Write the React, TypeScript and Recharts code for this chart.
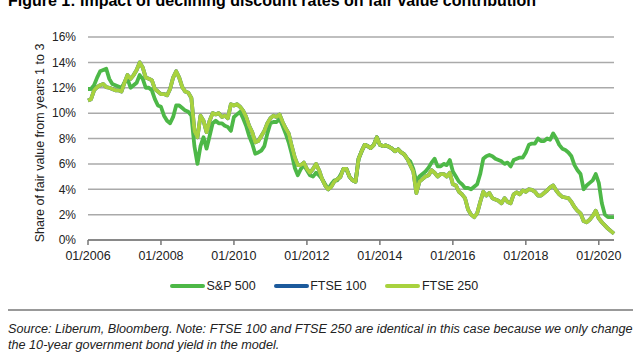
import { LineChart, Line, XAxis, YAxis, CartesianGrid } from 'recharts';

// Monthly readings, 01/2006 .. 06/2020 (share of fair value, %)
const sp500 = [
  11.9, 11.9, 12.2, 12.8, 13.3, 13.4, 13.5, 12.7, 12.3, 12.2,
  12.1, 12.0, 12.4, 12.7, 12.0, 12.2, 12.4, 13.0, 12.7, 12.0,
  12.0, 11.8, 11.1, 10.6, 10.5, 9.8, 9.4, 9.2, 9.7, 10.6,
  10.6, 10.4, 10.2, 10.1, 9.8, 7.4, 6.0, 7.4, 8.1, 7.2,
  8.2, 9.2, 9.4, 9.2, 9.2, 9.0, 8.9, 8.6, 9.7, 9.9,
  10.1, 9.6, 9.0, 8.2, 7.6, 6.8, 6.9, 7.05, 7.4, 8.4,
  9.2, 9.3, 9.3, 9.55, 9.0, 8.4, 7.7, 6.8, 5.7, 5.1,
  5.6, 5.9, 5.5, 5.1, 5.0, 5.3, 5.1, 4.8, 4.4, 4.0,
  4.4, 4.7, 4.7, 5.1, 5.6, 5.6, 5.0, 4.7, 4.6, 6.4,
  7.0, 7.5, 7.4, 7.25, 7.5, 8.1, 7.5, 7.4, 7.45, 7.35,
  7.2, 7.0, 7.15, 6.9, 6.75, 6.4, 6.2, 5.6, 4.6, 5.0,
  5.2, 5.4, 5.7, 6.1, 6.4, 5.8, 5.8, 6.0, 5.9, 6.3,
  5.4, 5.0, 4.6, 4.4, 4.1, 4.1, 4.0, 4.2, 4.4, 5.2,
  6.4, 6.6, 6.7, 6.6, 6.4, 6.3, 6.2, 6.0, 6.1, 5.8,
  6.3, 6.4, 6.5, 6.5, 6.9, 7.5, 7.6, 7.6, 8.0, 7.8,
  7.8, 8.0, 7.9, 8.4, 8.0, 7.5, 7.2, 7.1, 6.9, 6.6,
  5.9, 5.5, 5.2, 4.0, 4.3, 4.5, 4.7, 5.2, 4.5, 2.9,
  2.0, 1.8, 1.8, 1.8,
];

const ftse250 = [
  11.0, 11.1, 11.8, 12.05, 12.2, 12.3, 12.05, 12.0, 11.9, 11.8,
  11.8, 11.7, 12.4, 13.0, 12.7, 13.0, 13.4, 14.0, 13.6, 12.8,
  12.7, 12.6, 11.9, 11.7, 11.5, 11.5, 11.4, 11.9, 12.8, 13.3,
  12.8, 12.05, 11.7, 11.6, 11.2, 8.6, 8.1, 9.8, 9.4, 8.5,
  9.4, 10.0, 9.9, 10.0, 9.7, 9.8, 9.6, 10.7, 10.6, 10.7,
  10.5, 10.2, 9.7, 9.0, 8.5, 7.7, 7.8, 8.2, 8.6, 9.2,
  9.6, 9.8, 9.7, 9.9, 9.3, 8.8, 8.4, 7.4, 6.5, 5.9,
  5.9, 6.1, 5.6, 5.3, 5.6, 6.0, 5.5, 4.8, 4.3, 4.0,
  4.2, 4.6, 4.8, 4.95, 5.6, 5.6, 5.0, 4.7, 4.6, 6.4,
  7.0, 7.5, 7.4, 7.25, 7.5, 8.1, 7.5, 7.4, 7.45, 7.35,
  7.2, 7.0, 7.15, 6.9, 6.75, 6.4, 5.9, 5.4, 3.7, 4.6,
  4.8, 5.0, 5.1, 5.5, 5.3, 5.0, 5.2, 5.2, 5.0, 5.3,
  4.4, 4.3, 3.8, 3.6, 3.3, 2.4, 2.0, 1.8, 2.1, 3.0,
  3.8, 3.5, 3.7, 3.3, 3.2, 3.1, 2.9, 3.3, 3.0, 2.9,
  3.6, 3.75, 3.6, 3.9, 3.8, 4.0, 3.95, 3.8, 3.5, 3.5,
  3.7, 3.9, 4.15, 4.3, 3.9, 3.6, 3.4, 3.35, 3.3, 3.0,
  2.6, 2.3, 2.1, 1.5, 1.4, 1.6, 1.9, 2.3, 1.7, 1.4,
  1.15, 0.9, 0.7, 0.5,
];

// identical to FTSE 250 in this case (only the 10y yield changes)
const ftse100 = [...ftse250];

const tickLabels = ['01/2006', '01/2008', '01/2010', '01/2012', '01/2014', '01/2016', '01/2018', '01/2020'];
const yTicks = [0, 2, 4, 6, 8, 10, 12, 14, 16];

const series = [
  { key: 'sp500', name: 'S&P 500', color: '#4db847' },
  { key: 'ftse100', name: 'FTSE 100', color: '#1c5a9c' },
  { key: 'ftse250', name: 'FTSE 250', color: '#a8d23e' },
];

const data = sp500.map((v, i) => ({ m: i, sp500: v, ftse100: ftse100[i], ftse250: ftse250[i] }));
const xTicks = tickLabels.map((_, k) => k * 24);

const font = '"Liberation Sans", Arial, sans-serif';

export default function App() {
  return (
    <div style={{ position: 'absolute', left: 0, top: 0, width: 640, height: 360, overflow: 'hidden', background: '#fff', fontFamily: font }}>
      {/* title sits partly above the frame, as in the source crop */}
      <div style={{ position: 'absolute', left: 8, top: -8, fontSize: 16, lineHeight: '18px', fontWeight: 'bold', color: '#000', whiteSpace: 'nowrap' }}>
        Figure 1: Impact of declining discount rates on fair value contribution
      </div>

      <LineChart width={640} height={360} data={data} margin={{ top: 37, right: 26, bottom: 90, left: 0 }}>
        <CartesianGrid vertical={false} stroke="#aaaaaa" strokeWidth={1.5} />
        <XAxis
          dataKey="m"
          type="number"
          domain={[0, 173]}
          ticks={xTicks}
          tickFormatter={(v: number) => tickLabels[v / 24]}
          height={30}
          tick={{ fontSize: 12.5, fill: '#222', fontFamily: font }}
          axisLine={{ stroke: '#777', strokeWidth: 1.5 }}
          tickLine={{ stroke: '#777', strokeWidth: 1.5 }}
          tickSize={5}
          tickMargin={6.5}
          interval={0}
        />
        <YAxis
          type="number"
          domain={[0, 16]}
          ticks={yTicks}
          tickFormatter={(v: number) => `${v}%`}
          width={88}
          tick={{ fontSize: 12, fill: '#222', fontFamily: font }}
          axisLine={false}
          tickLine={false}
          tickMargin={6}
          interval={0}
        />
        {series.map((s) => (
          <Line
            key={s.key}
            type="linear"
            dataKey={s.key}
            name={s.name}
            stroke={s.color}
            strokeWidth={3.8}
            strokeLinejoin="round"
            dot={false}
            isAnimationActive={false}
          />
        ))}
      </LineChart>

      <div style={{ position: 'absolute', left: 40, top: 143, transform: 'translate(-50%, -50%) rotate(-90deg)', fontSize: 12.5, color: '#222', whiteSpace: 'nowrap' }}>
        Share of fair value from years 1 to 3
      </div>

      <div style={{ position: 'absolute', left: 170, top: 278, height: 16, display: 'flex', alignItems: 'center', fontSize: 12.5, color: '#222' }}>
        {series.map((s, k) => (
          <div key={s.key} style={{ display: 'flex', alignItems: 'center', marginRight: k === 0 ? 18 : 19 }}>
            <div style={{ width: 35, height: 4, background: s.color, borderRadius: 2, marginRight: 1.5 }} />
            <span>{s.name}</span>
          </div>
        ))}
      </div>

      <div style={{ position: 'absolute', left: 8, top: 309, width: 625, height: 2, background: '#999' }} />

      <div style={{ position: 'absolute', left: 8, top: 322, width: 632, fontSize: 12.65, lineHeight: '15.5px', fontStyle: 'italic', color: '#222' }}>
        Source: Liberum, Bloomberg. Note: FTSE 100 and FTSE 250 are identical in this case because we only change<br />
        the 10-year government bond yield in the model.
      </div>
    </div>
  );
}
